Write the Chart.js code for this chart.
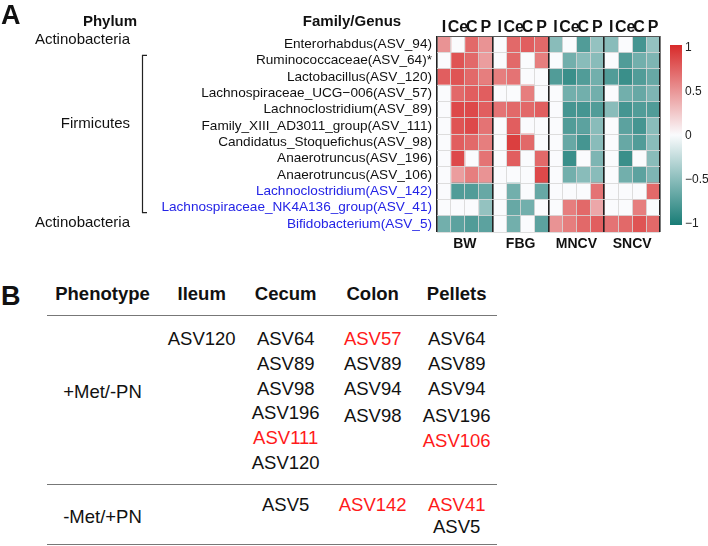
<!DOCTYPE html>
<html>
<head>
<meta charset="utf-8">
<script src="https://cdn.jsdelivr.net/npm/chart.js@4.4.1/dist/chart.umd.min.js"></script>
<style>
  body { margin: 0; background: #fff; width: 708px; height: 546px; position: relative; overflow: hidden;
         font-family: "Liberation Sans", Arial, sans-serif; }
  #heat { position: absolute; left: 0; top: 0; }
  .t { position: absolute; white-space: nowrap; transform: translateX(-50%); }
  .rule { position: absolute; left: 47px; width: 450px; height: 0; border-top: 1.5px solid #777; }
</style>
</head>
<body>
<canvas id="heat" width="708" height="256"></canvas>
<div id="tableB"></div>
<script>
// panel A data
const rowLabels = [
  'Enterorhabdus(ASV_94)', 'Ruminococcaceae(ASV_64)*', 'Lactobacillus(ASV_120)',
  'Lachnospiraceae_UCG\u2212006(ASV_57)', 'Lachnoclostridium(ASV_89)', 'Family_XIII_AD3011_group(ASV_111)',
  'Candidatus_Stoquefichus(ASV_98)', 'Anaerotruncus(ASV_196)', 'Anaerotruncus(ASV_106)',
  'Lachnoclostridium(ASV_142)', 'Lachnospiraceae_NK4A136_group(ASV_41)', 'Bifidobacterium(ASV_5)'
];
const highlightedRows = [9, 10, 11];
const traits = ['BW', 'FBG', 'MNCV', 'SNCV'];
const sites = ['I', 'Ce', 'C', 'P'];
const phyla = ['Actinobacteria', 'Firmicutes', 'Actinobacteria'];
const phylumRows = [[0, 0], [1, 10], [11, 11]];
const legendTicks = [1, 0.5, 0, -0.5, -1];

// correlation per row, columns I, Ce, C, P
const bwValues = [
  [0.5, 0, 0.7, 0.5], [0, 0.8, 0.7, 0.45], [0.75, 0.8, 0.7, 0.6], [0, 0.7, 0.75, 0.75],
  [0, 0.85, 0.85, 0.75], [0, 0.8, 0.85, 0.65], [0, 0.75, 0.7, 0.6], [0, 0.85, 0, 0.65],
  [0, 0.45, 0.6, 0.5], [0, -0.75, -0.75, -0.65], [0, 0, 0, -0.45], [-0.6, -0.7, -0.75, -0.7]
];
const fbgValues = [
  [0, 0.7, 0.75, 0.7], [0, 0.7, 0, 0.6], [0.6, 0.65, 0, 0], [0, 0, 0.6, 0],
  [0.65, 0.7, 0.7, 0.75], [0, 0.75, 0, 0], [0, 0.9, 0.7, 0], [0, 0.75, 0, 0.7],
  [0, 0, 0, 0.85], [0, -0.6, 0, -0.65], [0, -0.65, -0.6, 0], [0, -0.6, 0, -0.7]
];
const mncvValues = [
  [-0.5, 0, -0.75, -0.45], [0, -0.6, -0.5, -0.5], [-0.75, -0.85, -0.75, -0.6], [0, -0.6, -0.6, -0.6],
  [0, -0.8, -0.8, -0.75], [0, -0.75, -0.7, -0.5], [0, -0.65, -0.8, -0.5], [0, -0.85, 0, -0.55],
  [0, -0.6, -0.5, -0.5], [0, 0, 0, 0.65], [0, 0.6, 0.7, 0.4], [0.5, 0.6, 0.7, 0.75]
];
const sncvValues = [
  [-0.5, 0, -0.8, -0.45], [0, -0.75, -0.6, -0.55], [-0.75, -0.85, -0.75, -0.65], [0, -0.6, -0.65, -0.55],
  [-0.5, -0.8, -0.75, -0.75], [0, -0.7, -0.8, -0.5], [0, -0.65, -0.75, -0.5], [0, -0.85, 0, -0.5],
  [0, -0.6, -0.7, -0.55], [0, 0, 0, 0.7], [0, 0, 0.6, 0], [0.65, 0.7, 0.8, 0.7]
];

// panel B data
const tableHeader = ['Phenotype', 'Ileum', 'Cecum', 'Colon', 'Pellets'];
const phenotypes = ['+Met/-PN', '-Met/+PN'];
const plusMetCells = [['ASV120'], ['ASV64', 'ASV89', 'ASV98', 'ASV196', 'ASV111', 'ASV120'],
  ['ASV57', 'ASV89', 'ASV94', 'ASV98'], ['ASV64', 'ASV89', 'ASV94', 'ASV196', 'ASV106']];
const minusMetCells = [[], ['ASV5'], ['ASV142'], ['ASV41', 'ASV5']];
const redAsvs = ['ASV57', 'ASV111', 'ASV106', 'ASV142', 'ASV41'];

const FONT = '"Liberation Sans", Arial, sans-serif';
Chart.defaults.font.family = FONT;

function heatColor(v) {
  const lo = [24, 124, 118], mid = [250, 251, 253], hi = [216, 42, 42];
  const end = v < 0 ? lo : hi, t = Math.abs(v);
  return 'rgb(' + mid.map((c, i) => Math.round(c + (end[i] - c) * t)).join(',') + ')';
}

const traitValues = [bwValues, fbgValues, mncvValues, sncvValues];
const datasets = [];
traitValues.forEach((vals, g) => {
  sites.forEach((s, k) => {
    datasets.push({
      label: traits[g] + ' ' + s,
      data: rowLabels.map(() => 1),
      backgroundColor: vals.map(r => heatColor(r[k])),
      barPercentage: 1,
      categoryPercentage: 1,
      borderWidth: 0
    });
  });
});

const annotations = {
  id: 'annotations',
  afterDraw(chart) {
    const ctx = chart.ctx, y = chart.scales.y;
    const rowH = (chart.chartArea.bottom - chart.chartArea.top) / rowLabels.length;
    ctx.save();
    ctx.fillStyle = '#111';
    ctx.textAlign = 'left';
    ctx.textBaseline = 'alphabetic';
    ctx.font = 'bold 27px ' + FONT;
    ctx.fillText('A', 1, 24);
    ctx.font = 'bold 15px ' + FONT;
    ctx.textAlign = 'center';
    ctx.fillText('Phylum', 110, 26);
    ctx.fillText('Family/Genus', 352, 26);

    // phylum names + bracket
    const labelRow = [0, 5, 11], labelShift = [-4, -2, -1];
    ctx.font = '15px ' + FONT;
    ctx.textAlign = 'right';
    ctx.textBaseline = 'middle';
    phyla.forEach((p, i) => {
      ctx.fillText(p, 130, y.getPixelForValue(labelRow[i]) + labelShift[i]);
      const [a, b] = phylumRows[i];
      if (b > a) {
        const top = y.getPixelForValue(a) - rowH / 2 + 3, bot = y.getPixelForValue(b) + rowH / 2 - 3;
        ctx.strokeStyle = '#222';
        ctx.lineWidth = 1.2;
        ctx.beginPath();
        ctx.moveTo(147, top); ctx.lineTo(142.5, top); ctx.lineTo(142.5, bot); ctx.lineTo(147, bot);
        ctx.stroke();
      }
    });

    // colour bar
    const barX = 670, barW = 12, barTop = 45, barBot = 225;
    const valToY = v => 136 - 88 * v;
    const grad = ctx.createLinearGradient(0, barTop, 0, barBot);
    [1, 0.5, 0, -0.5, -1].forEach((v, i) => grad.addColorStop(i / 4, heatColor(v)));
    ctx.fillStyle = grad;
    ctx.fillRect(barX, barTop, barW, barBot - barTop);
    ctx.fillStyle = '#222';
    ctx.font = '12px ' + FONT;
    ctx.textAlign = 'left';
    legendTicks.forEach(v => {
      const txt = v < 0 ? '\u2212' + Math.abs(v) : String(v);
      ctx.fillText(txt, 685, valToY(v));
    });
    ctx.restore();
  }
};

new Chart(document.getElementById('heat'), {
  type: 'bar',
  data: { labels: rowLabels, datasets: datasets },
  options: {
    indexAxis: 'y',
    responsive: false,
    animation: false,
    layout: { padding: { left: 0, right: 48, top: 0, bottom: 0 } },
    plugins: { legend: { display: false }, tooltip: { enabled: false } },
    scales: {
      x: {
        type: 'linear', stacked: true, min: 0, max: 16, position: 'bottom',
        afterBuildTicks: s => { s.ticks = Array.from({ length: 17 }, (_, i) => ({ value: i })); },
        afterFit: s => { s.height = 24; },
        grid: {
          z: 1, drawTicks: false,
          color: c => (c.tick && c.tick.value % 4 === 0) ? '#222' : 'rgba(215,215,215,0.85)',
          lineWidth: c => (c.tick && c.tick.value % 4 === 0) ? 1.6 : 1
        },
        border: { display: false },
        ticks: {
          autoSkip: false, maxRotation: 0, minRotation: 0, padding: 4, color: '#111',
          font: { size: 14, weight: 'bold' },
          callback: v => (v % 4 === 2) ? traits[(v - 2) / 4] : ''
        }
      },
      xTop: {
        type: 'linear', position: 'top', min: 0, max: 16,
        afterBuildTicks: s => { s.ticks = Array.from({ length: 16 }, (_, i) => ({ value: i + 0.5 })); },
        afterFit: s => { s.height = 36; },
        grid: { display: false, drawTicks: false },
        border: { display: false },
        ticks: {
          autoSkip: false, maxRotation: 0, minRotation: 0, padding: 0, color: '#111',
          font: { size: 16, weight: 'bold', lineHeight: 1 },
          callback: v => sites[Math.floor(v) % 4]
        }
      },
      y: {
        type: 'category', stacked: true,
        afterFit: s => { s.width = 437; },
        grid: {
          z: 1, offset: true, drawTicks: false,
          color: c => (c.index === 0 || c.index === rowLabels.length) ? '#555' : 'rgba(215,215,215,0.85)'
        },
        border: { display: false },
        ticks: {
          padding: 5, autoSkip: false,
          color: c => highlightedRows.includes(c.index) ? '#2424e6' : '#111',
          font: { size: 13.6 }
        }
      }
    }
  },
  plugins: [annotations]
});

// panel B table
const tb = document.getElementById('tableB');
function place(text, cx, baseline, fs, bold, color, left) {
  const d = document.createElement('div');
  d.className = 't';
  d.textContent = text;
  d.style.fontSize = fs + 'px';
  d.style.lineHeight = fs + 'px';
  d.style.fontWeight = bold ? 'bold' : 'normal';
  d.style.color = color || '#111';
  d.style.top = (baseline - 0.8465 * fs) + 'px';
  if (left) d.style.transform = 'none';
  d.style.left = cx + 'px';
  tb.appendChild(d);
}
function rule(y) {
  const r = document.createElement('div');
  r.className = 'rule';
  r.style.top = y + 'px';
  tb.appendChild(r);
}
const colCenters = [102.5, 201.7, 285.7, 372.7, 456.7];
place('B', 1, 306, 27, true, '#111', true);
tableHeader.forEach((h, i) => place(h, colCenters[i], 301, 18.5, true));
rule(314.5);
place(phenotypes[0], colCenters[0], 398.6, 18.5, false);
plusMetCells.forEach((list, i) => list.forEach((a, j) =>
  place(a, colCenters[i + 1], 345.6 + j * 24.8 + (i >= 2 && j >= 3 ? 3 : 0), 18.5, false,
        redAsvs.includes(a) ? '#ff1a1a' : '#111')));
rule(483.5);
place(phenotypes[1], colCenters[0], 523.6, 18.5, false);
minusMetCells.forEach((list, i) => list.forEach((a, j) =>
  place(a, colCenters[i + 1], 511.6 + j * 22, 18.5, false, redAsvs.includes(a) ? '#ff1a1a' : '#111')));
rule(543.5);
</script>
</body>
</html>
